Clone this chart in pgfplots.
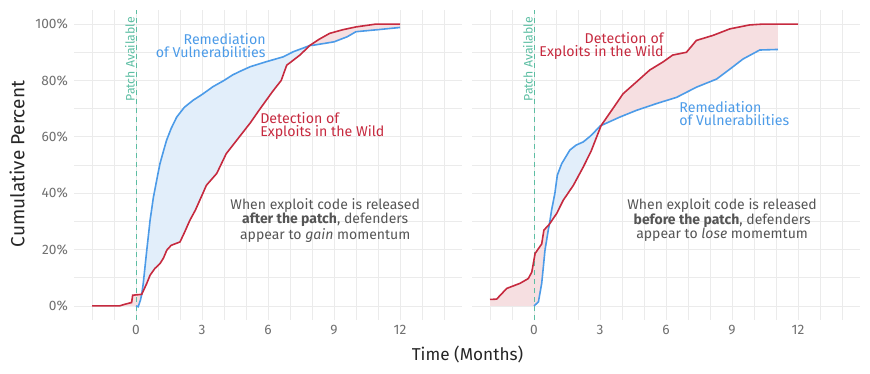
\documentclass[border=0pt]{standalone}
\usepackage{fontspec}
\setmainfont{Fira Sans}
\usepackage{pgfplots}
\usepackage{pgfplotstable}
\pgfplotsset{compat=1.18}
\usepgfplotslibrary{fillbetween}
\definecolor{cblue}{HTML}{4C9BE8}
\definecolor{cred}{HTML}{C62A3F}
\definecolor{fblue}{HTML}{E2EEFA}
\definecolor{fred}{HTML}{F6DFE1}
\definecolor{cteal}{HTML}{5DBEA3}
\definecolor{tickgray}{HTML}{707070}
\definecolor{anngray}{HTML}{555555}
\definecolor{gridc}{HTML}{EBEBEB}

\pgfplotstableread{
x y
-2 0
-0.75 0
-0.5 0.6
-0.2 1.2
-0.15 3.8
0.26 4.1
0.49 8
0.64 10.9
0.86 13.3
1.09 15
1.25 17
1.4 19.8
1.6 21.5
2.0 22.7
2.2 26
2.45 30.4
2.7 34
2.9 37.5
3.2 42.8
3.67 47
4.1 54
4.7 60
5.2 65
5.6 69.5
6.2 76
6.6 80
6.85 85.4
7.45 89
7.9 92.4
8.3 94.5
8.8 96.7
9.4 98
10.0 99
10.9 100
12 100
}\leftred

\pgfplotstableread{
x y
0 0
0.1 -0.3
0.2 2
0.26 4.1
0.33 8
0.49 19.8
0.64 30.4
0.79 38.5
1.0 47
1.09 50.5
1.25 55
1.39 58.8
1.6 63
1.85 67
2.2 70.5
2.6 73
3.0 75
3.5 77.8
4.0 80
4.4 82
4.8 83.5
5.2 84.9
5.9 86.6
6.7 88.4
7.15 90.2
7.6 91.5
7.9 92.4
8.06 92.5
9.0 93.7
9.6 95.5
10.0 97.3
11.1 98.1
12 98.8
}\leftblue

\pgfplotstableread{
x y
-2.0 2.3
-1.7 2.4
-1.24 6.2
-0.64 8
-0.26 9.7
-0.1 12
0.05 18.6
0.35 22
0.45 26.9
0.7 29
1.03 32.8
1.33 37.5
1.79 42.8
2.24 49.3
2.6 55
3.0 63
3.05 64
3.53 69.4
4.05 75.3
4.66 79.5
5.26 83.7
5.87 86.6
6.3 89
6.93 90
7.38 94.2
8.14 96
8.9 98.3
9.8 99.7
10.4 100
11.09 100
12 100
}\rightred

\pgfplotstableread{
x y
0 0
0.2 1.4
0.35 8
0.5 19.8
0.65 27
0.7 29
0.8 34
0.95 40
1.06 46.4
1.26 50.5
1.63 55.3
1.9 57
2.24 58.2
2.6 60.5
3.0 63.8
3.05 64
3.9 67
4.66 69.4
5.57 71.8
6.48 74
7.38 77.6
8.3 80.5
8.9 84
9.5 87.6
10.26 90.8
11.09 91
}\rightblue

\pgfplotsset{
  panel/.style={
    scale only axis, width=387.2pt, height=310pt,
    xmin=-2.8, xmax=14.8, ymin=-5, ymax=105,
    axis line style={draw=none}, tick style={draw=none},
    xtick={0,3,6,9,12}, xticklabels={0,3,6,9,12},
    minor xtick={-2,-1,1,2,4,5,7,8,10,11,13,14},
    ytick={0,20,40,60,80,100},
    minor ytick={10,30,50,70,90},
    grid=both,
    major grid style={draw=gridc, line width=0.7pt},
    minor grid style={draw=gridc, line width=0.5pt},
    ticklabel style={font=\fontsize{13.7}{15}\selectfont, text=tickgray},
    xticklabel style={yshift=-2pt},
    yticklabel style={xshift=-3pt},
  }
}

\begin{document}
\begin{tikzpicture}

\begin{axis}[panel, at={(74.4pt,53pt)}, anchor=south west,
  yticklabels={0\%,20\%,40\%,60\%,80\%,100\%}]
  \addplot[draw=none, name path=RA] table[restrict x to domain=-2.1:0.261] {\leftred};
  \addplot[draw=none, name path=BA] table[restrict x to domain=-0.01:0.261] {\leftblue};
  \addplot[draw=none, name path=RB] table[restrict x to domain=0.259:7.901] {\leftred};
  \addplot[draw=none, name path=BB] table[restrict x to domain=0.259:7.901] {\leftblue};
  \addplot[draw=none, name path=RC] table[restrict x to domain=7.899:12.1] {\leftred};
  \addplot[draw=none, name path=BC] table[restrict x to domain=7.899:12.1] {\leftblue};
  \addplot[fill=fred, draw=none] fill between[of=RA and BA];
  \addplot[fill=fblue, draw=none] fill between[of=RB and BB];
  \addplot[fill=fred, draw=none] fill between[of=RC and BC];
  \addplot[cteal, line width=1pt, dash pattern=on 5pt off 4pt] coordinates {(0,-5) (0,105)};
  \addplot[cblue, line width=1.6pt] table {\leftblue};
  \addplot[cred, line width=1.6pt] table {\leftred};
  \node[rotate=90, anchor=south east, inner sep=1pt, text=cteal, font=\fontsize{12.3}{14}\selectfont] at (axis cs:0,103) {Patch Available};
  \node[anchor=east, align=right, text=cblue, font=\fontsize{14.2}{13}\selectfont, inner sep=0pt] at (axis cs:5.9,92.4) {Remediation\\of Vulnerabilities};
  \node[anchor=west, align=left, text=cred, font=\fontsize{14.2}{13}\selectfont, inner sep=0pt] at (axis cs:5.64,64) {Detection of\\Exploits in the Wild};
  \node[align=center, text=anngray, font=\fontsize{14}{13.6}\selectfont, inner sep=0pt] at (axis cs:8.6,30.4) {When exploit code is released\\\textbf{after the patch}, defenders\\appear to \textit{gain} momentum};
\end{axis}

\begin{axis}[panel, at={(472.4pt,53pt)}, anchor=south west,
  yticklabels={}]
  \addplot[draw=none, name path=RA] table[restrict x to domain=-2.1:0.701] {\rightred};
  \addplot[draw=none, name path=BA] coordinates {(-2,0) (0,0) (0.2,1.4) (0.35,8) (0.5,19.8) (0.65,27) (0.7,29)};
  \addplot[draw=none, name path=RB] table[restrict x to domain=0.699:3.051] {\rightred};
  \addplot[draw=none, name path=BB] table[restrict x to domain=0.699:3.051] {\rightblue};
  \addplot[draw=none, name path=RC] table[restrict x to domain=3.049:11.091] {\rightred};
  \addplot[draw=none, name path=BC] table[restrict x to domain=3.049:11.091] {\rightblue};
  \addplot[fill=fred, draw=none] fill between[of=RA and BA];
  \addplot[fill=fblue, draw=none] fill between[of=RB and BB];
  \addplot[fill=fred, draw=none] fill between[of=RC and BC];
  \addplot[cteal, line width=1pt, dash pattern=on 5pt off 4pt] coordinates {(0,-5) (0,105)};
  \addplot[cblue, line width=1.6pt] table {\rightblue};
  \addplot[cred, line width=1.6pt] table {\rightred};
  \node[rotate=90, anchor=south east, inner sep=1pt, text=cteal, font=\fontsize{12.3}{14}\selectfont] at (axis cs:0,103) {Patch Available};
  \node[anchor=east, align=right, text=cred, font=\fontsize{14.2}{13}\selectfont, inner sep=0pt] at (axis cs:5.9,92.4) {Detection of\\Exploits in the Wild};
  \node[anchor=west, align=left, text=cblue, font=\fontsize{14.2}{13}\selectfont, inner sep=0pt] at (axis cs:6.6,68.2) {Remediation\\of Vulnerabilities};
  \node[align=center, text=anngray, font=\fontsize{14}{13.6}\selectfont, inner sep=0pt] at (axis cs:8.55,30.4) {When exploit code is released\\\textbf{before the patch}, defenders\\appear to \textit{lose} momemtum};
\end{axis}

\node[rotate=90, text=black!85, font=\fontsize{19}{21}\selectfont] at (17pt,209pt) {Cumulative Percent};
\node[text=black!85, font=\fontsize{17.2}{19}\selectfont] at (467.5pt,19pt) {Time (Months)};
\path (0pt,0pt) rectangle (870pt,373pt);
\end{tikzpicture}
\end{document}
